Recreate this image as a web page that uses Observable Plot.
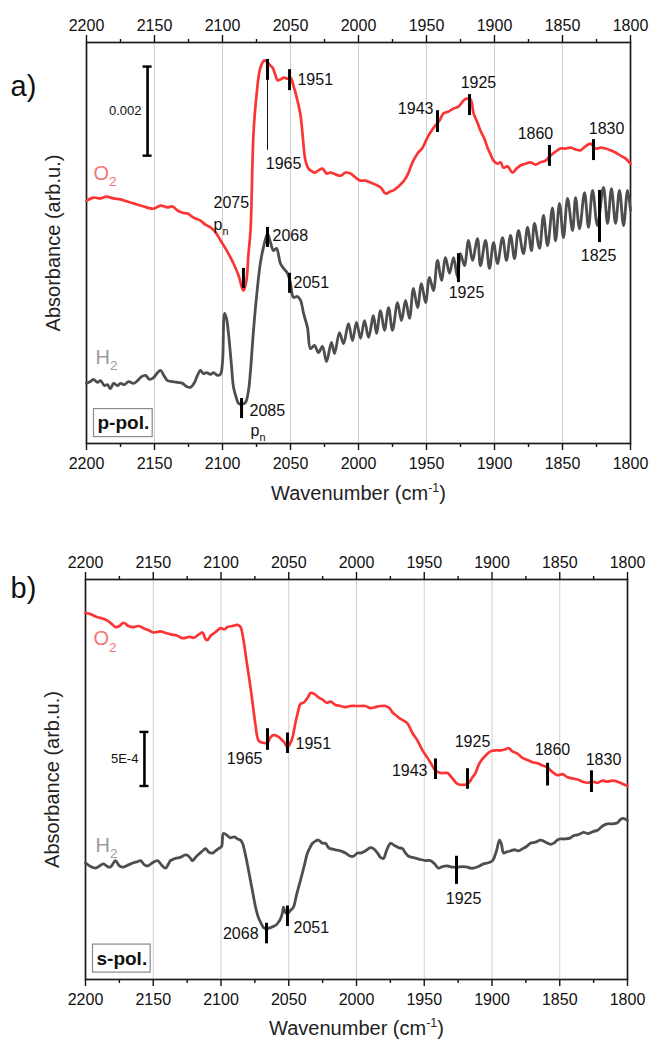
<!DOCTYPE html>
<html>
<head>
<meta charset="utf-8">
<script src="https://cdn.jsdelivr.net/npm/d3@7"></script>
<script src="https://cdn.jsdelivr.net/npm/@observablehq/plot@0.6"></script>
<style>
  body { margin: 0; background: #fff; }
  #fig { width: 651px; }
  #fig svg { display: block; overflow: visible; }
</style>
</head>
<body>
<div id="fig"></div>
<script>
// Wavenumber axis ticks (cm^-1)
const majorTicks = [2200, 2150, 2100, 2050, 2000, 1950, 1900, 1850, 1800];
const minorTicks = [2175, 2125, 2075, 2025, 1975, 1925, 1875, 1825];
const gridTicks = [2150, 2100, 2050, 2000, 1950, 1900, 1850];

// Spectra: [wavenumber, absorbance x 1e4 (traces offset for stacking)]
// a) p-polarised, after O2
const o2P = [[2200,54.5],[2194.9,55.2],[2189.7,55.0],[2185.3,55.4],[2180.1,55.0],[2175,54.8],[2169.9,54.3],[2165.4,53.9],[2160.3,53.4],[2155.9,53.0],[2150.7,52.7],[2145.6,53.4],[2140.4,53.0],[2136.8,53.2],[2133.1,52.3],[2129.4,51.8],[2125.7,51.6],[2121.3,50.7],[2116.2,50.0],[2112.5,49.1],[2108.8,48.5],[2105.1,47.4],[2101.5,45.6],[2097.1,43.4],[2091.9,40.4],[2088.2,37.7],[2084.6,34.3],[2082.4,36.6],[2080.9,42.6],[2079.4,47.8],[2077.2,69.6],[2075,78.1],[2072.1,84.4],[2069.1,86.0],[2066.9,85.5],[2064.7,84.8],[2063.2,84.4],[2061,82.6],[2059.6,81.5],[2057.4,81.7],[2055.1,82.1],[2052.2,81.9],[2050,82.1],[2047.8,80.3],[2044.9,77.0],[2042.6,73.6],[2041.2,69.6],[2039,63.5],[2036.8,61.7],[2035.3,61.3],[2032.4,60.8],[2029.4,61.3],[2026.5,61.7],[2023.5,60.6],[2020.6,60.8],[2016.9,60.4],[2013.2,60.1],[2009.6,60.8],[2005.9,60.6],[2002.2,59.7],[1998.5,59.0],[1994.9,59.0],[1991.2,58.6],[1987.5,58.1],[1983.8,57.5],[1980.1,56.1],[1976.5,56.6],[1974.3,56.8],[1970.6,57.7],[1967.6,58.6],[1965.4,59.5],[1963.2,60.8],[1960.3,63.1],[1956.6,65.1],[1952.9,66.4],[1949.3,68.7],[1946.3,70.2],[1943.4,71.4],[1940.4,72.5],[1937.5,74.1],[1933.8,74.5],[1930.1,75.2],[1926.5,75.6],[1922.8,77.0],[1920.6,77.4],[1917.6,77.2],[1915.4,74.1],[1912.5,72.0],[1910.3,70.2],[1907.4,68.4],[1905.1,66.4],[1902.9,64.9],[1900.7,63.5],[1897.8,62.8],[1895.6,63.1],[1893.4,61.9],[1890.4,62.2],[1886.8,60.8],[1883.8,61.7],[1880.9,62.4],[1877.2,62.8],[1873.5,63.1],[1869.9,62.6],[1866.2,63.1],[1862.5,63.5],[1858.8,64.6],[1855.1,65.5],[1851.5,66.2],[1847.8,66.2],[1844.1,66.4],[1840.4,66.0],[1836.8,65.8],[1833.1,66.7],[1829.4,67.3],[1825.7,66.2],[1822.1,66.4],[1818.4,66.2],[1814.7,65.8],[1811,65.3],[1807.4,64.6],[1803.7,64.0],[1800,62.8]];

// a) p-polarised, after H2
const h2P = [[2200,13.5],[2197.1,13.9],[2194.9,14.4],[2191.9,13.7],[2189.7,14.1],[2186.8,13.0],[2184.6,13.2],[2182.4,12.3],[2180.1,13.5],[2177.2,13.0],[2175,13.5],[2172.1,13.2],[2169.1,13.9],[2165.4,13.5],[2162.5,14.1],[2159.6,15.0],[2156.6,15.3],[2153.7,14.4],[2150.7,14.8],[2147.8,15.9],[2145.6,16.4],[2142.6,15.0],[2140.4,14.1],[2136.8,13.9],[2133.1,13.7],[2129.4,13.5],[2126.5,12.8],[2123.5,12.6],[2120.6,13.7],[2118.4,15.3],[2116.2,16.4],[2114,15.7],[2111.8,15.9],[2108.8,15.5],[2106.6,15.9],[2103.7,15.3],[2101.5,15.5],[2100,18.2],[2098.5,29.2],[2097.1,28.1],[2095.6,24.7],[2093.4,17.5],[2091.9,12.6],[2089.7,10.1],[2088.2,9.0],[2086,8.8],[2083.1,9.2],[2080.9,11.9],[2079.4,16.4],[2077.2,25.4],[2074.3,35.0],[2072.1,40.6],[2069.9,44.0],[2066.9,47.1],[2064.7,45.1],[2062.5,43.3],[2060.3,43.8],[2057.4,40.4],[2055.1,39.3],[2052.2,38.2],[2050,35.9],[2047.8,32.8],[2044.9,33.0],[2042.6,32.1],[2040.4,29.2],[2037.5,26.0],[2035.3,21.3],[2032.4,22.0],[2029.4,20.4],[2026.5,21.8],[2023.5,18.4],[2019.9,22.7],[2017.6,20.2],[2014,24.9],[2011,22.4],[2007.4,26.9],[2004.4,23.1],[2001.5,27.2],[1998.5,23.6],[1995.6,27.6],[1992.6,23.8],[1989,28.7],[1986.8,24.7],[1983.8,29.8],[1980.9,25.4],[1977.9,30.5],[1975,25.4],[1971.3,31.6],[1968.4,27.6],[1965.4,32.1],[1962.5,28.1],[1959.6,34.8],[1956.6,30.5],[1953.7,35.9],[1950.7,31.6],[1947.8,37.3],[1944.9,34.3],[1941.9,41.1],[1939,36.6],[1936,41.7],[1933.1,38.2],[1930.1,41.7],[1927.2,37.3],[1925,42.6],[1922.1,39.9],[1919.1,45.6],[1916.2,41.1],[1912.5,46.0],[1910.3,39.9],[1906.6,45.6],[1903.7,39.3],[1900.7,45.1],[1897.8,40.4],[1894.1,46.2],[1891.2,41.1],[1888.2,46.7],[1885.3,41.5],[1882.4,47.8],[1878.7,42.6],[1875.7,48.5],[1872.8,43.3],[1870.6,49.4],[1866.9,43.8],[1864,51.2],[1861,44.4],[1857.4,52.9],[1855.1,45.5],[1852.2,53.9],[1849.3,46.2],[1846.3,55.0],[1842.6,47.8],[1840.4,55.2],[1837.5,48.2],[1833.8,56.3],[1830.9,48.5],[1827.9,56.8],[1824.3,48.9],[1819.9,57.5],[1816.9,49.4],[1814,57.2],[1811,49.4],[1808.1,56.8],[1805.1,48.9],[1802.2,56.8],[1800,52.3]];

// b) s-polarised, after O2
const o2S = [[2200,33.9],[2196.3,33.8],[2191.1,33.5],[2187.5,33.4],[2183.8,33.2],[2180.8,32.9],[2177.9,32.6],[2174.9,32.7],[2172,33.0],[2168.3,32.7],[2164.6,32.6],[2160.9,32.7],[2157.2,32.5],[2153.5,32.3],[2149.8,32.1],[2144.6,32.2],[2139.5,32.0],[2135.8,31.9],[2132.1,31.8],[2129.2,31.6],[2126.2,31.6],[2123.2,31.7],[2120.3,31.6],[2116.6,31.9],[2113.7,32.1],[2111.4,31.5],[2110,31.4],[2107.7,31.8],[2105.5,32.0],[2102.6,32.3],[2100.4,32.5],[2097.4,32.4],[2095.2,32.6],[2091.5,32.7],[2087.8,32.8],[2085.6,32.6],[2083.4,31.4],[2081.2,29.5],[2078.2,27.0],[2076,24.9],[2074.5,23.5],[2072.3,22.1],[2069.4,21.9],[2065.7,21.9],[2063.5,22.4],[2061.3,22.6],[2058.3,22.5],[2056.1,22.3],[2053.1,21.9],[2050.9,21.5],[2048.7,21.9],[2047.2,22.4],[2045,23.8],[2043.5,24.6],[2041.3,25.5],[2039.1,25.6],[2037.6,25.8],[2035.4,26.2],[2033.9,26.5],[2031,26.4],[2028,26.1],[2025.1,25.9],[2022.1,25.6],[2019.2,25.7],[2015.5,25.4],[2011.8,25.3],[2008.1,25.2],[2004.4,25.3],[2000.7,25.3],[1997,25.3],[1993.4,25.3],[1989.7,25.1],[1986,25.2],[1982.3,25.3],[1978.6,25.3],[1975.6,25.1],[1973.4,24.7],[1970.5,24.4],[1967.5,24.1],[1964.6,23.9],[1962.4,23.7],[1958.7,22.8],[1955,22.1],[1951.3,21.2],[1947.6,20.5],[1944.6,19.9],[1941.7,19.3],[1938,19.1],[1935.8,19.1],[1932.8,19.1],[1929.2,18.6],[1925.5,18.1],[1921.8,18.0],[1918.1,18.1],[1915.9,18.4],[1914.4,18.7],[1912.2,19.1],[1910,19.8],[1907.7,20.3],[1904.8,20.7],[1901.1,21.1],[1897.4,21.2],[1893.7,21.2],[1890,21.3],[1887.8,21.4],[1884.9,21.1],[1881.2,20.9],[1877.5,20.5],[1873.8,20.3],[1870.1,20.1],[1866.4,20.0],[1862.7,19.8],[1859,19.6],[1855.4,19.2],[1851.7,18.9],[1848,19.0],[1844.3,18.7],[1840.6,18.6],[1836.9,18.5],[1833.2,18.3],[1829.5,18.2],[1825.8,18.3],[1822.1,18.2],[1818.5,18.4],[1814.8,18.3],[1811.1,18.4],[1807.4,18.3],[1803.7,18.1],[1800,17.9]];

// b) s-polarised, after H2
const h2S = [[2200,10.8],[2196.3,10.45],[2192.6,10.3],[2189.7,10.5],[2186.8,10.7],[2183.8,10.45],[2181.5,10.4],[2179.3,10.8],[2177.9,11.0],[2174.9,10.5],[2172,10.4],[2168.3,10.6],[2164.6,10.8],[2161.6,10.9],[2159.4,11.0],[2156.5,10.6],[2154.2,10.5],[2150.6,10.8],[2146.9,11.0],[2143.9,10.6],[2141,10.3],[2138.7,10.7],[2137.3,11.0],[2133.6,11.2],[2129.9,11.3],[2126.9,11.5],[2124.7,11.5],[2122.5,11.2],[2121,11.0],[2118.8,11.3],[2117.3,11.5],[2114.4,11.8],[2111.4,12.1],[2109.2,11.8],[2106.3,11.7],[2104.1,11.9],[2101.8,12.1],[2099.6,12.3],[2098.2,13.5],[2095.2,13.3],[2093,13.1],[2090,13.2],[2087.8,13.0],[2085.6,12.9],[2084.1,12.6],[2081.9,11.5],[2079.7,10.1],[2076.8,8.2],[2074.5,6.7],[2072.3,5.7],[2070.8,5.3],[2068.6,4.8],[2066.4,4.7],[2063.5,4.8],[2059.8,5.0],[2057.6,5.3],[2056.1,5.6],[2054.6,6.2],[2053.9,6.7],[2052.4,6.2],[2050.9,6.1],[2048.7,6.4],[2046.5,6.7],[2044.3,7.8],[2041.3,9.2],[2038.4,10.6],[2036.2,11.7],[2033.9,12.3],[2032.5,12.6],[2030.3,12.8],[2028,12.9],[2025.1,12.6],[2022.9,12.6],[2020.7,12.2],[2019.2,12.1],[2015.5,12.0],[2011.8,11.9],[2008.1,11.7],[2004.4,11.4],[2002.2,11.4],[1999.3,11.7],[1997,11.7],[1993.4,11.9],[1989.7,12.2],[1987.5,12.1],[1984.5,11.7],[1982.3,11.3],[1980.1,11.2],[1977.9,11.9],[1974.9,12.6],[1972,12.4],[1969,12.2],[1966.1,12.1],[1963.8,11.7],[1961.6,11.4],[1958.7,11.3],[1955.7,11.2],[1952.8,11.1],[1949.1,11.0],[1945.4,11.0],[1942.4,10.7],[1939.5,10.3],[1936.5,10.45],[1932.8,10.5],[1929.2,10.4],[1925.5,10.4],[1921.8,10.45],[1918.1,10.4],[1915.9,10.3],[1913.7,10.3],[1910,10.45],[1906.3,10.7],[1902.6,10.8],[1899.6,11.0],[1896.7,11.9],[1894.5,12.9],[1893,12.5],[1891.5,11.7],[1889.3,11.8],[1886.3,11.9],[1883.4,12.0],[1880.4,11.9],[1877.5,12.1],[1874.5,12.3],[1871.6,12.6],[1867.9,12.7],[1864.2,12.9],[1860.5,12.7],[1856.8,12.5],[1854.6,12.6],[1851.7,12.9],[1849.4,13.0],[1845.8,13.0],[1842.1,13.1],[1839.9,13.3],[1836.2,13.4],[1832.5,13.6],[1828.8,13.5],[1825.1,13.7],[1822.1,13.8],[1818.5,14.2],[1814.8,14.4],[1811.1,14.4],[1807.4,14.5],[1805.2,14.8],[1803,14.9],[1800,14.7]];

// Band markers: [wavenumber, lower, upper]
const ticksA = [[2066.9,81.5,86.2],[2050.7,79.2,83.9],[2084.6,34.8,39.3],[2066.9,44.0,48.5],[2050.7,33.7,38.2],[2086,5.6,10.1],[1941.9,69.8,74.7],[1918.4,73.6,78.3],[1859.6,62.2,66.9],[1827.2,63.5,68.2],[1926.5,36.1,42.6],[1822.8,45.1,56.8]];
const leaderA = [[2066.9,65.8,81.5]];
const ticksB = [[2065.7,21.2,23.2],[2050.9,20.9,22.8],[1941.7,18.5,20.4],[1918.1,17.6,19.5],[1859,17.9,20.0],[1826.6,17.3,19.3],[1926.2,8.8,11.4],[2066.4,3.3,5.2],[2050.9,4.9,6.8]];
const leaderB = [];

// Band labels: [text, wavenumber, absorbance], grouped by alignment
const labelsStartA = [["1951",2044.9,81.5],["2075",2106.6,54.1],["p_{n}",2106.6,49.0],["2068",2063.2,46.7],["2051",2047.8,36.1],["2085",2080.1,7.4],["p_{n}",2079.4,2.9]];
const labelsMiddleA = [["1965",2055.1,62.8],["1925",1911.8,81.0],["1860",1869.9,69.6],["1830",1817.6,70.7],["1925",1920.6,33.7],["1825",1823.5,42.2]];
const labelsEndA = [["1943",1944.9,75.2]];
const labelsStartB = [["1951",2045,21.8],["2051",2046.5,4.8]];
const labelsMiddleB = [["1925",1914.4,22.0],["1860",1855.4,21.2],["1830",1817.7,20.3],["1925",1921,7.5]];
const labelsEndB = [["1965",2069.4,20.4],["1943",1947.6,19.3],["2068",2072.3,4.2]];

// Scale bars: [wavenumber, base, length (x 1e4), label]
const scaleA = [2155.1, 64.6, 20, "0.002"];
const scaleB = [2156.5, 17.9, 5, "5E-4"];

// Trace names: [text, wavenumber, absorbance]
const namesA = [["O_{2}",2194.9,60.6],["H_{2}",2193.4,19.3]];
const namesB = [["O_{2}",2194.1,31.5],["H_{2}",2192.6,12.4]];

const FONT = '"Liberation Sans", Arial, Helvetica, sans-serif';
const RED = "#fb3535", RED_LABEL = "#f47474";
const GRAY = "#4e4e4e", GRAY_LABEL = "#9c9c9c";

function panel({o2, h2, yMax, margin, ticks, leader, lStart, lMiddle, lEnd, scale, names, tag, tagDy, pol, polDy, titleDy}) {
  const wn = d => d[0], ab = d => d[1];
  const labelText = (rows, anchor) => Plot.text(rows, {
    x: d => d[1], y: d => d[2], text: d => d[0], textAnchor: anchor,
    fontSize: 16, fill: "#111"
  });
  return Plot.plot({
    width: 651, height: 520,
    marginTop: margin[0], marginRight: margin[1], marginBottom: margin[2], marginLeft: margin[3],
    style: {fontFamily: FONT, background: "#fff", color: "#111", overflow: "visible"},
    x: {domain: [2200, 1800]},
    y: {domain: [0, yMax], axis: null},
    marks: [
      Plot.gridX({ticks: gridTicks, stroke: "#cfcfcf", strokeOpacity: 1, strokeWidth: 1}),
      Plot.axisX({anchor: "top", ticks: minorTicks, tickSize: 4, tickFormat: () => "", label: null, strokeWidth: 1.4}),
      Plot.axisX({anchor: "top", ticks: majorTicks, tickSize: 8, tickPadding: 4, tickFormat: d => String(d), fontSize: 16, label: null, strokeWidth: 1.4}),
      Plot.axisX({anchor: "bottom", ticks: minorTicks, tickSize: 4, tickFormat: () => "", label: null, strokeWidth: 1.4}),
      Plot.axisX({anchor: "bottom", ticks: majorTicks, tickSize: 7, tickPadding: 7, tickFormat: d => String(d), fontSize: 16, label: null, strokeWidth: 1.4}),
      Plot.frame({stroke: "#1c1c1c", strokeWidth: 1.7}),
      Plot.line(o2, {x: wn, y: ab, stroke: RED, strokeWidth: 2.7, strokeLinejoin: "round", curve: "catmull-rom"}),
      Plot.line(h2, {x: wn, y: ab, stroke: GRAY, strokeWidth: 2.8, strokeLinejoin: "round", curve: "catmull-rom"}),
      Plot.ruleX(leader, {x: d => d[0], y1: d => d[1], y2: d => d[2], stroke: "#111", strokeWidth: 1}),
      Plot.ruleX(ticks, {x: d => d[0], y1: d => d[1], y2: d => d[2], stroke: "#000", strokeWidth: 3}),
      labelText(lStart, "start"),
      labelText(lMiddle, "middle"),
      labelText(lEnd, "end"),
      // scale bar with end caps
      Plot.ruleX([scale], {x: d => d[0], y1: d => d[1], y2: d => d[1] + d[2], stroke: "#000", strokeWidth: 2.6}),
      Plot.ruleY([scale[1], scale[1] + scale[2]], {y: d => d, x1: () => scale[0], x2: () => scale[0], insetLeft: -4.5, insetRight: -4.5, stroke: "#000", strokeWidth: 2.4}),
      Plot.text([scale], {x: d => d[0], y: d => d[1] + d[2] / 2, text: d => d[3], textAnchor: "end", dx: -6, fontSize: 13, fill: "#111"}),
      // trace names
      Plot.text([names[0]], {x: d => d[1], y: d => d[2], text: d => d[0], textAnchor: "start", fontSize: 20, fill: RED_LABEL}),
      Plot.text([names[1]], {x: d => d[1], y: d => d[2], text: d => d[0], textAnchor: "start", fontSize: 20, fill: GRAY_LABEL}),
      // polarisation tag
      Plot.text([pol], {text: d => d, frameAnchor: "bottom-left", textAnchor: "start", lineAnchor: "middle", dx: 11, dy: polDy, fontSize: 19, fontWeight: "bold", fill: "#111"}),
      // panel letter and axis titles
      Plot.text([tag], {text: d => d, frameAnchor: "top-left", textAnchor: "start", lineAnchor: "middle", dx: 10 - margin[3], dy: tagDy, fontSize: 29, fill: "#111"}),
      Plot.text(["Absorbance (arb.u.)"], {text: d => d, frameAnchor: "left", textAnchor: "middle", lineAnchor: "middle", rotate: -90, dx: -33, fontSize: 20, fill: "#222"}),
      Plot.text(["Wavenumber (cm^{-1})"], {text: d => d, frameAnchor: "bottom", textAnchor: "middle", lineAnchor: "middle", dy: titleDy, fontSize: 20, fill: "#222"})
    ]
  });
}

// Render "_{..}" as subscript and "^{..}" as superscript
function enrich(svg) {
  d3.select(svg).selectAll("text").each(function () {
    const s = this.textContent;
    if (!/[_^]\{/.test(s)) return;
    const fs = parseFloat(getComputedStyle(this).fontSize) || 16;
    const parts = s.split(/([_^]\{[^}]*\})/).filter(p => p.length);
    const el = d3.select(this);
    el.text(null);
    let shift = 0;
    for (const p of parts) {
      const m = p.match(/^([_^])\{([^}]*)\}$/);
      const t = el.append("tspan");
      if (m) {
        const target = m[1] === "_" ? 0.32 * fs : -0.42 * fs;
        t.attr("dy", target - shift).attr("font-size", (m[1] === "_" ? 0.68 : 0.62) * fs).text(m[2]);
        shift = target;
      } else {
        if (shift) t.attr("dy", -shift);
        shift = 0;
        t.text(p);
      }
    }
  });
}

// Outline the polarisation tag
function boxTag(svg, label) {
  d3.select(svg).selectAll("text").filter(function () { return this.textContent === label; }).each(function () {
    const b = this.getBBox();
    const t = this.getAttribute("transform");
    const r = d3.select(this.parentNode).insert("rect", () => this)
      .attr("x", b.x - 4).attr("y", b.y - 3.5)
      .attr("width", b.width + 7).attr("height", b.height + 7)
      .attr("fill", "#fff").attr("stroke", "#8a8a8a").attr("stroke-width", 1.2);
    if (t) r.attr("transform", t);
  });
}

const fig = document.getElementById("fig");
const a = panel({
  o2: o2P, h2: h2P, yMax: 90, margin: [42, 21, 77, 86],
  ticks: ticksA, leader: leaderA, lStart: labelsStartA, lMiddle: labelsMiddleA, lEnd: labelsEndA,
  scale: scaleA, names: namesA, tag: "a)", tagDy: 44, pol: "p-pol.", polDy: -20.5, titleDy: 50
});
const b = panel({
  o2: o2S, h2: h2S, yMax: 37, margin: [59, 24, 61, 85],
  ticks: ticksB, leader: leaderB, lStart: labelsStartB, lMiddle: labelsMiddleB, lEnd: labelsEndB,
  scale: scaleB, names: namesB, tag: "b)", tagDy: 9, pol: "s-pol.", polDy: -21, titleDy: 49
});
fig.append(a, b);
enrich(a); enrich(b);
boxTag(a, "p-pol."); boxTag(b, "s-pol.");
</script>
</body>
</html>
